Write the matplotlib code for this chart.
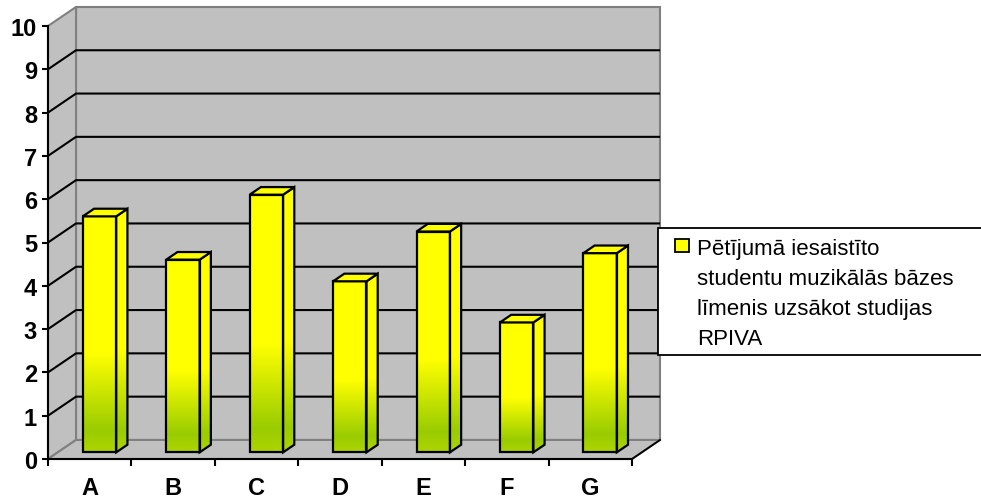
import numpy as np
import matplotlib.pyplot as plt
from matplotlib.patches import Polygon, Rectangle
from matplotlib.colors import LinearSegmentedColormap

plt.rcParams['font.family'] = ['Liberation Sans', 'DejaVu Sans']

categories = ['A', 'B', 'C', 'D', 'E', 'F', 'G']
values = [5.45, 4.45, 5.95, 3.95, 5.1, 3.0, 4.6]
yticks = list(range(11))
series_label = 'Pētījumā iesaistīto\nstudentu muzikālās bāzes\nlīmenis uzsākot studijas\nRPIVA'

W, H, DPI = 981, 502, 100
fig = plt.figure(figsize=(W / DPI, H / DPI), dpi=DPI, facecolor='white')

# front plane of the box (pixels): x from 48 to 632, value 0 at row 460, 10 at row 27
ax = fig.add_axes([48 / W, 1 - 460 / H, 584 / W, 433 / H])
ax.patch.set_visible(False)

n = len(categories)
ymax = yticks[-1]
DX, DY = 0.336, 0.44          # depth of the box in data units
F0, F1 = 0.35, 0.75           # front / back of the bars inside the depth
BW = 0.4                      # bar width

# walls and floor
wall = dict(facecolor='#c0c0c0', edgecolor='#808080', linewidth=1.5, clip_on=False, zorder=0)
ax.add_patch(Polygon([(DX, DY), (n + DX, DY), (n + DX, ymax + DY), (DX, ymax + DY)], **wall))
ax.add_patch(Polygon([(0, 0), (DX, DY), (DX, ymax + DY), (0, ymax)], **wall))
ax.add_patch(Polygon([(0, 0), (n, 0), (n + DX, DY), (DX, DY)], **wall))
ax.plot([n, n + DX], [0, DY], color='black', lw=1.3, clip_on=False, zorder=1)
for v in yticks[1:-1]:
    ax.plot([0, DX, n + DX], [v, v + DY, v + DY], color='black', lw=1.5,
            clip_on=False, zorder=1, solid_capstyle='butt')

# yellow to green shading of the bars
cmap = LinearSegmentedColormap.from_list(
    'bar', [(0, '#aed400'), (0.09, '#99cc00'), (0.42, '#ffff00'), (1, '#ffff00')])
grad = np.linspace(0, 1, 256).reshape(-1, 1)

ddx, ddy = (F1 - F0) * DX, (F1 - F0) * DY
for i, v in enumerate(values):
    xl = i + 0.5 - BW / 2 + F0 * DX
    xr = xl + BW
    yb = F0 * DY
    yt = yb + v
    front = Polygon([(xl, yb), (xr, yb), (xr, yt), (xl, yt)],
                    facecolor='none', edgecolor='black', lw=1.6, zorder=4)
    side = Polygon([(xr, yb), (xr + ddx, yb + ddy), (xr + ddx, yt + ddy), (xr, yt)],
                   facecolor='none', edgecolor='black', lw=1.6, zorder=4)
    top = Polygon([(xl, yt), (xr, yt), (xr + ddx, yt + ddy), (xl + ddx, yt + ddy)],
                  facecolor='#ffff00', edgecolor='black', lw=1.6, zorder=4)
    for p in (front, side, top):
        ax.add_patch(p)
    im = ax.imshow(grad, origin='lower', extent=(xl, xr, yb, yt), cmap=cmap,
                   aspect='auto', interpolation='bilinear', zorder=3)
    im.set_clip_path(front)
    im2 = ax.imshow(grad, origin='lower', extent=(xr, xr + ddx, yb, yt + ddy), cmap=cmap,
                    aspect='auto', interpolation='bilinear', zorder=3)
    im2.set_clip_path(side)

ax.set_xlim(0, n)
ax.set_ylim(0, ymax)

for s in ('top', 'right'):
    ax.spines[s].set_visible(False)
for s in ('left', 'bottom'):
    ax.spines[s].set_linewidth(1.5)
    ax.spines[s].set_zorder(5)

ax.set_yticks(yticks)
ax.set_xticks(np.arange(n) + 0.5, categories)
ax.set_xticks(np.arange(n + 1), minor=True)
ax.tick_params(axis='y', length=4, width=1.5, pad=4, labelsize=17)
ax.tick_params(axis='x', which='major', length=0, pad=12, labelsize=17)
ax.tick_params(axis='x', which='minor', length=5, width=1.5)
for lab in ax.get_xticklabels() + ax.get_yticklabels():
    lab.set_fontweight('bold')

# legend box, running off the right edge
def px(x, y):
    return x / W, 1 - y / H

fig.patches.append(Rectangle(px(658, 356), 340 / W, 127 / H, transform=fig.transFigure,
                             facecolor='white', edgecolor='black', lw=1.3, zorder=5))
fig.patches.append(Rectangle(px(675, 253), 14 / W, 13 / H, transform=fig.transFigure,
                             facecolor='#ffff00', edgecolor='black', lw=1.3, zorder=6))
fig.text(*px(697, 239), series_label, fontsize=16, va='top', ha='left',
         linespacing=1.56, zorder=6)

fig.savefig('out.png', dpi=DPI)
